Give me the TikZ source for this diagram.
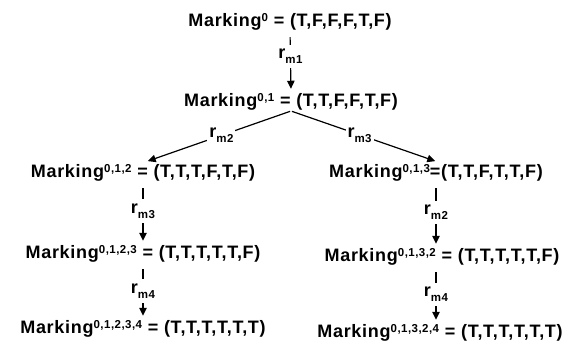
\documentclass[tikz,border=0pt]{standalone}
\usepackage{fontspec}
\setmainfont{Liberation Sans}[LetterSpace=4]
\usepackage{tikz}
\usetikzlibrary{arrows.meta,calc}
\usepackage{xcolor}

\newcommand{\sups}[1]{\raisebox{5pt}{\fontsize{11.5}{13}\selectfont #1}}
\newcommand{\sbs}[1]{\raisebox{-5pt}{\fontsize{11.5}{13}\selectfont #1}}
\newcommand{\mk}[1]{Marking\sups{#1}}
\newcommand{\rl}[1]{r\sbs{#1}}

\begin{document}
\begin{tikzpicture}[x=1pt,y=-1pt,
  every node/.style={font=\fontsize{18}{21}\selectfont\bfseries},
  mk/.style={inner sep=1pt,anchor=base},
  lbl/.style={fill=white,inner sep=4.5pt},
  arr/.style={line width=1.2pt,-{Triangle[length=8pt,width=7.5pt]},shorten <=6pt,shorten >=3pt}]
\useasboundingbox (0,0) rectangle (577,348);
% markings
\node[mk] (m0) at (290,26) {\mk{0} = (T,F,F,F,T,F)};
\node[mk] (m01) at (291,106) {\mk{0,1} = (T,T,F,F,T,F)};
\node[mk] (m012) at (143,177) {\mk{0,1,2} = (T,T,T,F,T,F)};
\node[mk] (m013) at (436,177) {\mk{0,1,3}=(T,T,F,T,T,F)};
\node[mk] (m0123) at (143,258) {\mk{0,1,2,3} = (T,T,T,T,T,F)};
\node[mk] (m0132) at (442,261) {\mk{0,1,3,2} = (T,T,T,T,T,F)};
\node[mk] (m01234) at (143,333) {\mk{0,1,2,3,4} = (T,T,T,T,T,T)};
\node[mk] (m01324) at (440,337) {\mk{0,1,3,2,4} = (T,T,T,T,T,T)};
% rules
\draw[arr] (m0.south) -- node[lbl,pos=0.42] (r1) {\rl{m1}} (m01.north);
\draw[arr,shorten <=1pt,shorten >=5pt] (m01.south) -- node[lbl,inner sep=2pt,pos=0.47] (r2) {\rl{m2}} (m012.north);
\draw[arr,shorten <=1pt,shorten >=5pt] (m01.south) -- node[lbl,inner sep=2pt,pos=0.46] (r3) {\rl{m3}} ($(m013.north)+(4,0)$);
\draw[arr] (m012.south) -- node[lbl,pos=0.47] (r3b) {\rl{m3}} (m0123.north);
\draw[arr] (m0123.south) -- node[lbl,pos=0.5] (r4) {\rl{m4}} (m01234.north);
\draw[arr] (m013.south) -- node[lbl,pos=0.47] (r2b) {\rl{m2}} (m013.south |- m0132.north);
\draw[arr] (m0132.south -| m013) -- node[lbl,pos=0.5] (r4b) {\rl{m4}} (m013.south |- m01324.north);
\end{tikzpicture}
\end{document}
